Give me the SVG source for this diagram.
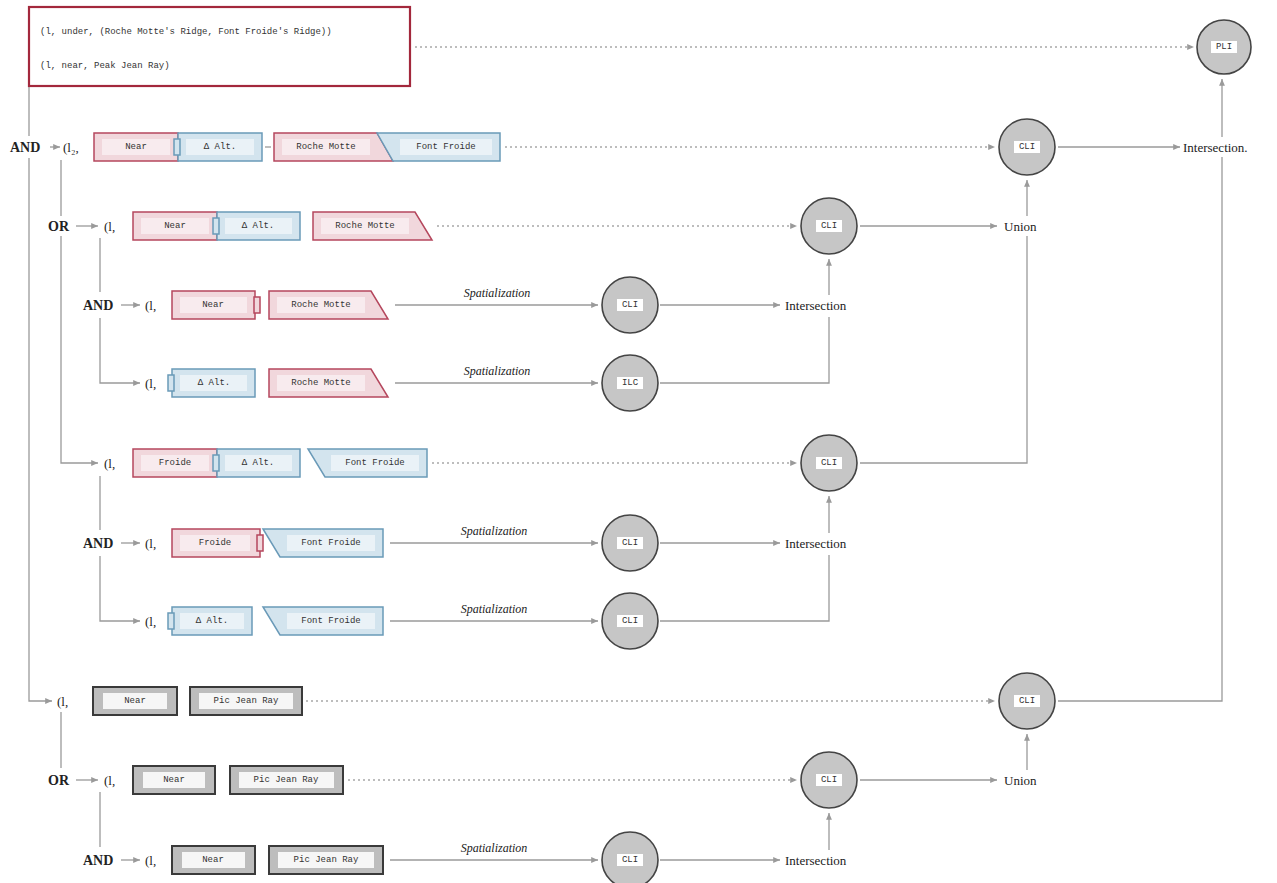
<svg xmlns="http://www.w3.org/2000/svg" width="1277" height="883" viewBox="0 0 1277 883">
<style>
.r{fill:#f1d7dc;stroke:#b5475d;stroke-width:1.5}
.ri{fill:#f8ebee}
.b{fill:#d3e4ee;stroke:#6a9ab8;stroke-width:1.5}
.bi{fill:#eaf2f7}
.g{fill:#bdbdbd;stroke:#3a3a3a;stroke-width:2}
.gi{fill:#f6f6f6}
.m{font-family:"Liberation Mono",monospace;font-size:9px;fill:#333;text-anchor:middle;dominant-baseline:central}
.ml{font-family:"Liberation Mono",monospace;font-size:9px;fill:#333;dominant-baseline:central}
.s{font-family:"Liberation Serif",serif;font-size:13px;fill:#222;dominant-baseline:central}
.op{font-family:"Liberation Serif",serif;font-size:14px;font-weight:bold;fill:#222;dominant-baseline:central}
.sp{font-family:"Liberation Serif",serif;font-size:12px;font-style:italic;fill:#222;text-anchor:middle}
.c{fill:#c6c6c6;stroke:#444;stroke-width:1.6}
.ci{fill:#fff}
.ln{fill:none;stroke:#9a9a9a;stroke-width:1.3}
.dt{fill:none;stroke:#a8a8a8;stroke-width:1.3;stroke-dasharray:2 3}
</style>
<defs>
<marker id="a" viewBox="0 0 8 8" refX="7" refY="4" markerWidth="6" markerHeight="6" orient="auto"><path d="M0,1 L7,4 L0,7 z" fill="#9a9a9a"/></marker>
</defs>
<rect width="1277" height="883" fill="#fff"/>

<g id="connectors">
<path class="dt" d="M415,47 H1194" marker-end="url(#a)"/>
<path class="ln" d="M29,86 V136 M29,158 V701 H52" marker-end="url(#a)"/>
<path class="ln" d="M61,160 V216"/>
<path class="ln" d="M61,236 V463 H98" marker-end="url(#a)"/>
<path class="ln" d="M76,226 H98" marker-end="url(#a)"/>
<path class="ln" d="M100,238 V292"/>
<path class="ln" d="M100,318 V383 H140" marker-end="url(#a)"/>
<path class="ln" d="M121,305 H140" marker-end="url(#a)"/>
<path class="ln" d="M100,476 V530"/>
<path class="ln" d="M100,556 V621 H140" marker-end="url(#a)"/>
<path class="ln" d="M121,543 H140" marker-end="url(#a)"/>
<path class="ln" d="M61,712 V768"/>
<path class="ln" d="M76,780 H98" marker-end="url(#a)"/>
<path class="ln" d="M100,792 V847"/>
<path class="ln" d="M121,860 H140" marker-end="url(#a)"/>
<path class="ln" d="M50,147 H60" marker-end="url(#a)"/>
<path class="ln" d="M265,147 H271"/>
<path class="dt" d="M505,147 H995" marker-end="url(#a)"/>
<path class="dt" d="M437,226 H797" marker-end="url(#a)"/>
<path class="dt" d="M432,463 H797" marker-end="url(#a)"/>
<path class="dt" d="M306,701 H995" marker-end="url(#a)"/>
<path class="dt" d="M348,780 H797" marker-end="url(#a)"/>
<path class="ln" d="M395,305 H598" marker-end="url(#a)"/>
<path class="ln" d="M395,383 H598" marker-end="url(#a)"/>
<path class="ln" d="M390,543 H598" marker-end="url(#a)"/>
<path class="ln" d="M390,621 H598" marker-end="url(#a)"/>
<path class="ln" d="M390,860 H598" marker-end="url(#a)"/>
<path class="ln" d="M660,305 H780" marker-end="url(#a)"/>
<path class="ln" d="M829,295 V259" marker-end="url(#a)"/>
<path class="ln" d="M829,317 V383 H660"/>
<path class="ln" d="M660,543 H780" marker-end="url(#a)"/>
<path class="ln" d="M829,533 V496" marker-end="url(#a)"/>
<path class="ln" d="M829,555 V621 H660"/>
<path class="ln" d="M660,860 H780" marker-end="url(#a)"/>
<path class="ln" d="M829,850 V813" marker-end="url(#a)"/>
<path class="ln" d="M860,226 H997" marker-end="url(#a)"/>
<path class="ln" d="M1027,216 V180" marker-end="url(#a)"/>
<path class="ln" d="M1027,236 V463 H860"/>
<path class="ln" d="M860,780 H997" marker-end="url(#a)"/>
<path class="ln" d="M1027,770 V734" marker-end="url(#a)"/>
<path class="ln" d="M1058,147 H1180" marker-end="url(#a)"/>
<path class="ln" d="M1222,137 V79" marker-end="url(#a)"/>
<path class="ln" d="M1222,157 V701 H1058"/>
</g>

<g id="query">
<rect x="29" y="7" width="381" height="79" fill="#fff" stroke="#a3283c" stroke-width="2.2"/>
<text class="ml" x="40" y="32">(l, under, (Roche Motte's Ridge, Font Froide's Ridge))</text>
<text class="ml" x="40" y="66">(l, near, Peak Jean Ray)</text>
</g>

<g id="labels">
<text class="op" x="10" y="147">AND</text>
<text class="s" x="63" y="147">(l₂,</text>
<text class="op" x="48" y="226">OR</text>
<text class="s" x="104" y="226">(l,</text>
<text class="op" x="83" y="305">AND</text>
<text class="s" x="145" y="305">(l,</text>
<text class="s" x="145" y="383">(l,</text>
<text class="s" x="104" y="463">(l,</text>
<text class="op" x="83" y="543">AND</text>
<text class="s" x="145" y="543">(l,</text>
<text class="s" x="145" y="621">(l,</text>
<text class="s" x="57" y="701">(l,</text>
<text class="op" x="48" y="780">OR</text>
<text class="s" x="104" y="780">(l,</text>
<text class="op" x="83" y="860">AND</text>
<text class="s" x="145" y="860">(l,</text>
<text class="sp" x="497" y="297">Spatialization</text>
<text class="sp" x="497" y="375">Spatialization</text>
<text class="sp" x="494" y="535">Spatialization</text>
<text class="sp" x="494" y="613">Spatialization</text>
<text class="sp" x="494" y="852">Spatialization</text>
<text class="s" x="1183" y="147">Intersection.</text>
<text class="s" x="1004" y="226">Union</text>
<text class="s" x="785" y="305">Intersection</text>
<text class="s" x="785" y="543">Intersection</text>
<text class="s" x="1004" y="780">Union</text>
<text class="s" x="785" y="860">Intersection</text>
</g>

<g id="row1">
<rect class="r" x="94" y="133" width="84" height="28"/><rect class="ri" x="102" y="139" width="68" height="16"/><text class="m" x="136" y="147">Near</text>
<rect class="b" x="178" y="133" width="84" height="28"/><rect class="bi" x="186" y="139" width="68" height="16"/><text class="m" x="220" y="147">Δ Alt.</text>
<rect class="b" x="174" y="139" width="6" height="16"/>
<polygon class="r" points="274,133 377,133 393,161 274,161"/><rect class="ri" x="282" y="139" width="88" height="16"/><text class="m" x="326" y="147">Roche Motte</text>
<polygon class="b" points="377,133 500,133 500,161 393,161"/><rect class="bi" x="400" y="139" width="92" height="16"/><text class="m" x="446" y="147">Font Froide</text>
</g>

<g id="row2">
<rect class="r" x="133" y="212" width="84" height="28"/><rect class="ri" x="141" y="218" width="68" height="16"/><text class="m" x="175" y="226">Near</text>
<rect class="b" x="217" y="212" width="83" height="28"/><rect class="bi" x="225" y="218" width="67" height="16"/><text class="m" x="258" y="226">Δ Alt.</text>
<rect class="b" x="213" y="218" width="6" height="16"/>
<polygon class="r" points="313,212 415,212 432,240 313,240"/><rect class="ri" x="321" y="218" width="88" height="16"/><text class="m" x="365" y="226">Roche Motte</text>
</g>

<g id="row3">
<rect class="r" x="172" y="291" width="83" height="28"/><rect class="ri" x="180" y="297" width="67" height="16"/><text class="m" x="213" y="305">Near</text>
<rect class="r" x="254" y="297" width="6" height="16"/>
<polygon class="r" points="269,291 371,291 388,319 269,319"/><rect class="ri" x="277" y="297" width="88" height="16"/><text class="m" x="321" y="305">Roche Motte</text>
</g>

<g id="row4">
<rect class="b" x="172" y="369" width="83" height="28"/><rect class="bi" x="180" y="375" width="67" height="16"/><text class="m" x="214" y="383">Δ Alt.</text>
<rect class="b" x="168" y="375" width="6" height="16"/>
<polygon class="r" points="269,369 371,369 388,397 269,397"/><rect class="ri" x="277" y="375" width="88" height="16"/><text class="m" x="321" y="383">Roche Motte</text>
</g>

<g id="row5">
<rect class="r" x="133" y="449" width="84" height="28"/><rect class="ri" x="141" y="455" width="68" height="16"/><text class="m" x="175" y="463">Froide</text>
<rect class="b" x="217" y="449" width="83" height="28"/><rect class="bi" x="225" y="455" width="67" height="16"/><text class="m" x="258" y="463">Δ Alt.</text>
<rect class="b" x="213" y="455" width="6" height="16"/>
<polygon class="b" points="308,449 427,449 427,477 325,477"/><rect class="bi" x="331" y="455" width="88" height="16"/><text class="m" x="375" y="463">Font Froide</text>
</g>

<g id="row6">
<rect class="r" x="172" y="529" width="88" height="28"/><rect class="ri" x="180" y="535" width="70" height="16"/><text class="m" x="215" y="543">Froide</text>
<rect class="r" x="257" y="535" width="6" height="16"/>
<polygon class="b" points="263,529 383,529 383,557 280,557"/><rect class="bi" x="287" y="535" width="88" height="16"/><text class="m" x="331" y="543">Font Froide</text>
</g>

<g id="row7">
<rect class="b" x="172" y="607" width="80" height="28"/><rect class="bi" x="180" y="613" width="64" height="16"/><text class="m" x="212" y="621">Δ Alt.</text>
<rect class="b" x="168" y="613" width="6" height="16"/>
<polygon class="b" points="263,607 383,607 383,635 280,635"/><rect class="bi" x="287" y="613" width="88" height="16"/><text class="m" x="331" y="621">Font Froide</text>
</g>

<g id="row8">
<rect class="g" x="93" y="687" width="84" height="28"/><rect class="gi" x="103" y="693" width="64" height="16"/><text class="m" x="135" y="701">Near</text>
<rect class="g" x="190" y="687" width="112" height="28"/><rect class="gi" x="199" y="693" width="94" height="16"/><text class="m" x="246" y="701">Pic Jean Ray</text>
</g>

<g id="row9">
<rect class="g" x="133" y="766" width="82" height="28"/><rect class="gi" x="143" y="772" width="62" height="16"/><text class="m" x="174" y="780">Near</text>
<rect class="g" x="230" y="766" width="113" height="28"/><rect class="gi" x="239" y="772" width="95" height="16"/><text class="m" x="286" y="780">Pic Jean Ray</text>
</g>

<g id="row10">
<rect class="g" x="172" y="846" width="83" height="28"/><rect class="gi" x="182" y="852" width="63" height="16"/><text class="m" x="213" y="860">Near</text>
<rect class="g" x="269" y="846" width="114" height="28"/><rect class="gi" x="278" y="852" width="96" height="16"/><text class="m" x="326" y="860">Pic Jean Ray</text>
</g>

<g id="n-pli"><circle class="c" cx="1224" cy="47" r="27"/><rect class="ci" x="1211" y="41" width="26" height="12"/><text class="m" x="1224" y="47">PLI</text></g>
<g id="n-c1"><circle class="c" cx="1027" cy="147" r="28"/><rect class="ci" x="1014" y="141" width="26" height="12"/><text class="m" x="1027" y="147">CLI</text></g>
<g id="n-c2"><circle class="c" cx="829" cy="226" r="28"/><rect class="ci" x="816" y="220" width="26" height="12"/><text class="m" x="829" y="226">CLI</text></g>
<g id="n-c3"><circle class="c" cx="630" cy="305" r="28"/><rect class="ci" x="617" y="299" width="26" height="12"/><text class="m" x="630" y="305">CLI</text></g>
<g id="n-c4"><circle class="c" cx="630" cy="383" r="28"/><rect class="ci" x="617" y="377" width="26" height="12"/><text class="m" x="630" y="383">ILC</text></g>
<g id="n-c5"><circle class="c" cx="829" cy="463" r="28"/><rect class="ci" x="816" y="457" width="26" height="12"/><text class="m" x="829" y="463">CLI</text></g>
<g id="n-c6"><circle class="c" cx="630" cy="543" r="28"/><rect class="ci" x="617" y="537" width="26" height="12"/><text class="m" x="630" y="543">CLI</text></g>
<g id="n-c7"><circle class="c" cx="630" cy="621" r="28"/><rect class="ci" x="617" y="615" width="26" height="12"/><text class="m" x="630" y="621">CLI</text></g>
<g id="n-c8"><circle class="c" cx="1027" cy="701" r="28"/><rect class="ci" x="1014" y="695" width="26" height="12"/><text class="m" x="1027" y="701">CLI</text></g>
<g id="n-c9"><circle class="c" cx="829" cy="780" r="28"/><rect class="ci" x="816" y="774" width="26" height="12"/><text class="m" x="829" y="780">CLI</text></g>
<g id="n-c10"><circle class="c" cx="630" cy="860" r="28"/><rect class="ci" x="617" y="854" width="26" height="12"/><text class="m" x="630" y="860">CLI</text></g>
</svg>
